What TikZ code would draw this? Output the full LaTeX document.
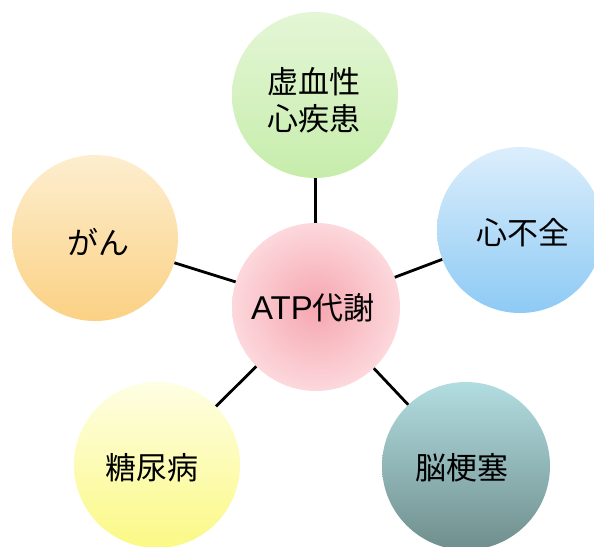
\documentclass[tikz,border=0pt]{standalone}
\usepackage{fontspec}
\setmainfont{Noto Sans CJK JP}
\newfontfamily\latinsans{Liberation Sans}
\usetikzlibrary{shadings}
\definecolor{gTop}{HTML}{E4F6D6}
\definecolor{gBot}{HTML}{C6EDAB}
\definecolor{pIn}{HTML}{F6A6B0}
\definecolor{pOut}{HTML}{FCD8DC}
\definecolor{bTop}{HTML}{DCEEFC}
\definecolor{bBot}{HTML}{8DCAF4}
\definecolor{tTop}{HTML}{B2DDE0}
\definecolor{tBot}{HTML}{6F8E8D}
\definecolor{yTop}{HTML}{FEFEE4}
\definecolor{yBot}{HTML}{FBF985}
\definecolor{oTop}{HTML}{FDEECF}
\definecolor{oBot}{HTML}{FBD184}
\tikzset{
  bubble/.style={circle, minimum size=166pt, inner sep=0pt, font=\fontsize{31}{38}\selectfont, align=center, text=black},
  label/.style={bubble, minimum size=0pt},
  link/.style={line width=2.8pt, black},
}
\begin{document}
\begin{tikzpicture}[x=1pt, y=-1pt]
\useasboundingbox (0,0) rectangle (594,546);
\begin{scope}
\clip (0,0) rectangle (594,546);
\node[bubble, top color=gTop, bottom color=gBot] (ihd) at (315,95) {};
\node[bubble, inner color=pIn, outer color=pOut, minimum size=168pt] (atp) at (316,307) {};
\node[bubble, top color=bTop, bottom color=bBot] (hf) at (520,230) {};
\node[bubble, top color=tTop, bottom color=tBot, minimum size=168pt] (st) at (466,466) {};
\node[bubble, top color=yTop, bottom color=yBot] (dm) at (157,465) {};
\node[bubble, top color=oTop, bottom color=oBot] (ca) at (95,238) {};
\draw[link] (atp) -- (ihd);
\draw[link] (atp) -- (hf);
\draw[link] (atp) -- (st);
\draw[link] (atp) -- (dm);
\draw[link] (atp) -- (ca);
\node[label, font=\fontsize{31}{37}\selectfont] (tihd) at (314,100) {虚血性\\心疾患};
\node[label] (tatp) at (313,308) {{\latinsans\fontsize{33}{38}\selectfont ATP}代謝};
\node[label] (thf) at (523,233) {心不全};
\node[label] (tst) at (462,468) {脳梗塞};
\node[label] (tdm) at (152,468) {糖尿病};
\node[label] (tca) at (98,242) {がん};
\end{scope}
\end{tikzpicture}
\end{document}
